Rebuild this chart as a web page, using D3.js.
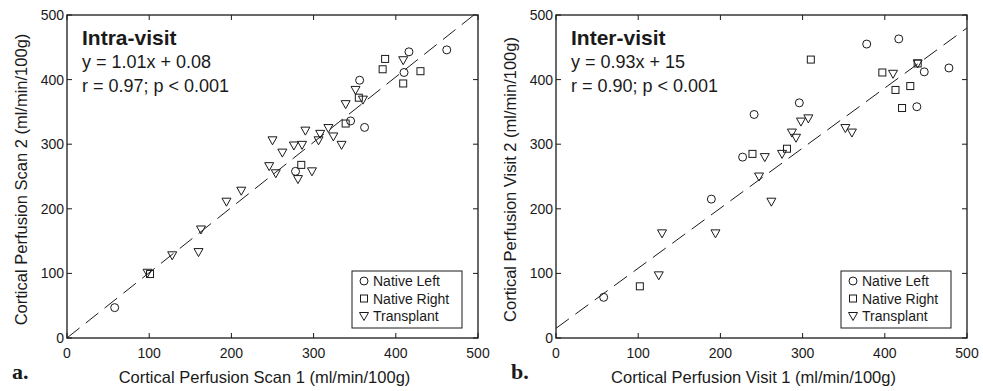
<!DOCTYPE html>
<html>
<head>
<meta charset="UTF-8">
<script src="https://d3js.org/d3.v7.min.js"></script>
<style>
  body { margin: 0; background: #fff; }
  svg { font-family: "Liberation Sans", Arial, sans-serif; }
</style>
</head>
<body>
<svg width="983" height="391"></svg>
<script>
const ticks = [0, 100, 200, 300, 400, 500];

// panel a: intra-visit
const intraLeft = [[58,47],[278,258],[345,336],[362,326],[356,399],[410,411],[416,443],[462,446]];
const intraRight = [[101,99],[285,268],[339,332],[355,372],[384,416],[387,432],[409,394],[430,413]];
const intraTransplant = [[98,101],[128,128],[160,133],[163,168],[194,211],[212,228],[246,266],[254,255],
  [262,287],[250,306],[276,298],[286,299],[281,246],[298,258],[290,321],[306,306],[308,316],[318,325],
  [324,312],[334,299],[339,362],[351,384],[360,369],[409,430]];
const intraFit = { slope: 1.01, icept: 0.08, x0: 0, x1: 495 };

// panel b: inter-visit
const interLeft = [[58,63],[189,215],[227,280],[241,346],[296,364],[378,455],[417,463],[439,358],[448,412],[478,418]];
const interRight = [[102,80],[239,285],[281,293],[310,431],[397,411],[413,384],[421,356],[431,390],[440,425]];
const interTransplant = [[125,97],[129,162],[194,162],[247,250],[254,280],[262,211],[275,285],[287,318],
  [292,310],[298,335],[307,340],[352,325],[360,318],[410,409],[440,425]];
const interFit = { slope: 0.93, icept: 15, x0: 0, x1: 500 };

const legendNames = ["Native Left", "Native Right", "Transplant"];

const svg = d3.select("svg");
const ink = "#1a1a1a";

function marker(g, type, cx, cy) {
  if (type === 0) {
    g.append("circle").attr("cx", cx).attr("cy", cy).attr("r", 4)
      .attr("fill", "none").attr("stroke", ink);
  } else if (type === 1) {
    g.append("rect").attr("x", cx - 3.5).attr("y", cy - 3.5).attr("width", 7).attr("height", 7)
      .attr("fill", "none").attr("stroke", ink);
  } else {
    g.append("path").attr("d", `M${cx-4.5},${cy-3.5}L${cx+4.5},${cy-3.5}L${cx},${cy+4.5}Z`)
      .attr("fill", "none").attr("stroke", ink);
  }
}

function panel(o) {
  const x = d3.scaleLinear().domain([0, 500]).range([o.left, o.left + 411]);
  const y = d3.scaleLinear().domain([0, 500]).range([338, 15]);
  const g = svg.append("g");

  g.append("rect").attr("x", x(0)).attr("y", y(500)).attr("width", x(500) - x(0)).attr("height", y(0) - y(500))
    .attr("fill", "none").attr("stroke", ink).attr("stroke-width", 1.3);

  // inward ticks on all sides
  ticks.forEach(t => {
    g.append("line").attr("x1", x(t)).attr("x2", x(t)).attr("y1", y(0)).attr("y2", y(0) - 5).attr("stroke", ink);
    g.append("line").attr("x1", x(t)).attr("x2", x(t)).attr("y1", y(500)).attr("y2", y(500) + 5).attr("stroke", ink);
    g.append("line").attr("y1", y(t)).attr("y2", y(t)).attr("x1", x(0)).attr("x2", x(0) + 5).attr("stroke", ink);
    g.append("line").attr("y1", y(t)).attr("y2", y(t)).attr("x1", x(500)).attr("x2", x(500) - 5).attr("stroke", ink);
    g.append("text").attr("x", x(t)).attr("y", y(0) + 20).attr("text-anchor", "middle")
      .attr("font-size", 14).attr("fill", ink).text(t);
    g.append("text").attr("x", x(0) - 3).attr("y", y(t) + 5).attr("text-anchor", "end")
      .attr("font-size", 14).attr("fill", ink).text(t);
  });

  // fit line
  const f = o.fit;
  g.append("line").attr("x1", x(f.x0)).attr("y1", y(f.slope * f.x0 + f.icept))
    .attr("x2", x(f.x1)).attr("y2", y(f.slope * f.x1 + f.icept))
    .attr("stroke", ink).attr("stroke-dasharray", "16,8");

  [o.left_, o.right_, o.trans].forEach((arr, i) => {
    arr.forEach(d => marker(g, i, x(d[0]), y(d[1])));
  });

  g.append("text").attr("x", x(0) + 15).attr("y", 45).attr("font-size", 21).attr("font-weight", "bold")
    .attr("fill", ink).text(o.title);
  g.append("text").attr("x", x(0) + 15).attr("y", 68).attr("font-size", 18).attr("fill", ink).text(o.eq);
  g.append("text").attr("x", x(0) + 15).attr("y", 92).attr("font-size", 18).attr("fill", ink).text(o.stat);

  // legend
  const lx = x(500) - 126, ly = 271;
  g.append("rect").attr("x", lx).attr("y", ly).attr("width", 110).attr("height", 57)
    .attr("fill", "#fff").attr("stroke", ink);
  legendNames.forEach((n, i) => {
    marker(g, i, lx + 12, ly + 10 + i * 17.5);
    g.append("text").attr("x", lx + 21).attr("y", ly + 15 + i * 17.5).attr("font-size", 14)
      .attr("fill", ink).text(n);
  });

  g.append("text").attr("x", (x(0) + x(500)) / 2 - 8).attr("y", 383).attr("text-anchor", "middle")
    .attr("font-size", 16.5).attr("fill", ink).text(o.xlab);
  g.append("text").attr("transform", `translate(${o.left - 40},${(y(0) + y(500)) / 2 + 3}) rotate(-90)`)
    .attr("text-anchor", "middle").attr("font-size", 16.5).attr("fill", ink).text(o.ylab);
  g.append("text").attr("x", o.left + o.tagDx).attr("y", 379).attr("font-family", "Liberation Serif, serif")
    .attr("font-weight", "bold").attr("font-size", 22).attr("fill", ink).text(o.tag);
}

panel({ left: 67, fit: intraFit, left_: intraLeft, right_: intraRight, trans: intraTransplant,
  title: "Intra-visit", eq: "y = 1.01x + 0.08", stat: "r = 0.97; p < 0.001",
  xlab: "Cortical Perfusion Scan 1 (ml/min/100g)", ylab: "Cortical Perfusion Scan 2 (ml/min/100g)",
  tag: "a.", tagDx: -55 });
panel({ left: 556, fit: interFit, left_: interLeft, right_: interRight, trans: interTransplant,
  title: "Inter-visit", eq: "y = 0.93x + 15", stat: "r = 0.90; p < 0.001",
  xlab: "Cortical Perfusion Visit 1 (ml/min/100g)", ylab: "Cortical Perfusion Visit 2 (ml/min/100g)",
  tag: "b.", tagDx: -45 });
</script>
</body>
</html>
